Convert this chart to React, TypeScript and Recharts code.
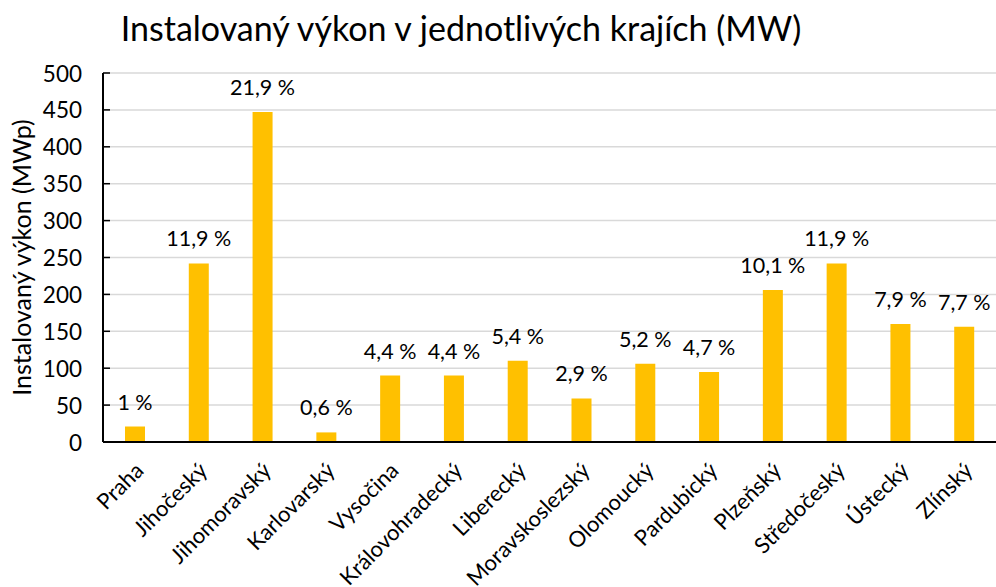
import React from "react";
import { BarChart, Bar, XAxis, YAxis, CartesianGrid, LabelList } from "recharts";

const regions = [
  "Praha",
  "Jihočeský",
  "Jihomoravský",
  "Karlovarský",
  "Vysočina",
  "Královohradecký",
  "Liberecký",
  "Moravskoslezský",
  "Olomoucký",
  "Pardubický",
  "Plzeňský",
  "Středočeský",
  "Ústecký",
  "Zlínský",
];
const powerMW = [21, 242, 447, 13, 90, 90, 110, 59, 106, 95, 206, 242, 160, 156];
const shareLabels = [
  "1 %",
  "11,9 %",
  "21,9 %",
  "0,6 %",
  "4,4 %",
  "4,4 %",
  "5,4 %",
  "2,9 %",
  "5,2 %",
  "4,7 %",
  "10,1 %",
  "11,9 %",
  "7,9 %",
  "7,7 %",
];
const yTicks = [0, 50, 100, 150, 200, 250, 300, 350, 400, 450, 500];

const data = regions.map((r, i) => ({ region: r, value: powerMW[i], share: shareLabels[i] }));

const FONT = "Lato, 'Open Sans', sans-serif";

const YTick = (props: any) => {
  const { x, y, payload } = props;
  return (
    <g>
      <line x1={x + 20} x2={x + 27} y1={y} y2={y} stroke="#000" strokeWidth={1.5} />
      <text x={x - 1} y={y} textAnchor="end" dominantBaseline="central" fontSize={22.5} fill="#000" fontFamily={FONT}>
        {payload.value}
      </text>
    </g>
  );
};

const XTick = (props: any) => {
  const { x, y, payload } = props;
  return (
    <text
      x={x + 4}
      y={y + 16}
      textAnchor="end"
      dominantBaseline="central"
      fontSize={22}
      fill="#000"
      fontFamily={FONT}
      transform={`rotate(-45 ${x + 4} ${y + 16})`}
    >
      {payload.value}
    </text>
  );
};

const ShareLabel = (props: any) => {
  const { x, y, width, value } = props;
  return (
    <text
      x={x + width / 2}
      y={y - 25}
      textAnchor="middle"
      dominantBaseline="central"
      fontSize={21.5}
      fill="#000"
      fontFamily={FONT}
    >
      {value}
    </text>
  );
};

export default function App() {
  return (
    <div style={{ position: "relative", width: 996, height: 587, background: "#fff", fontFamily: FONT }}>
      <style>{`body{margin:0;}`}</style>
      <div
        style={{
          position: "absolute",
          left: 0,
          width: 922,
          top: 6,
          textAlign: "center",
          fontSize: 34,
          lineHeight: "44px",
          color: "#000",
          whiteSpace: "nowrap",
        }}
      >
        Instalovaný výkon v jednotlivých krajích (MW)
      </div>
      <BarChart
        width={996}
        height={587}
        data={data}
        margin={{ top: 73, right: 0, left: 0, bottom: 0 }}
        barCategoryGap={0}
      >
        <CartesianGrid vertical={false} stroke="#d9d9d9" strokeWidth={1.5} />
        <XAxis
          dataKey="region"
          interval={0}
          height={145}
          axisLine={{ stroke: "#000", strokeWidth: 2 }}
          tickLine={false}
          tick={<XTick />}
        />
        <YAxis
          domain={[0, 500]}
          ticks={yTicks}
          width={103}
          tickSize={0}
          tickMargin={20}
          axisLine={{ stroke: "#000", strokeWidth: 2 }}
          tickLine={false}
          tick={<YTick />}
          label={{
            value: "Instalovaný výkon (MWp)",
            angle: -90,
            position: "insideLeft",
            offset: 22,
            style: { textAnchor: "middle", fontSize: 25, fill: "#000", fontFamily: FONT },
          }}
        />
        <Bar dataKey="value" fill="#FFC000" barSize={20} isAnimationActive={false}>
          <LabelList dataKey="share" content={<ShareLabel />} />
        </Bar>
      </BarChart>
    </div>
  );
}
